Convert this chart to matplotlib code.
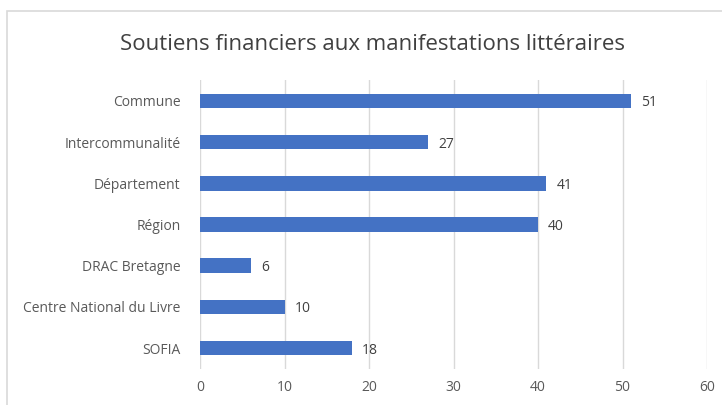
import matplotlib
matplotlib.use("Agg")
import matplotlib.pyplot as plt
from matplotlib.patches import Rectangle

categories = ["Commune", "Intercommunalité", "Département", "Région",
              "DRAC Bretagne", "Centre National du Livre", "SOFIA"]
values = [51, 27, 41, 40, 6, 10, 18]
xticks = [0, 10, 20, 30, 40, 50, 60]

plt.rcParams['font.family'] = ['Open Sans', 'DejaVu Sans']

fig = plt.figure(figsize=(7.22, 4.05), dpi=100)
fig.patches.append(Rectangle((7/722, -0.1), 1.2, 1 - 11/405 + 0.1,
                             transform=fig.transFigure, fill=False,
                             edgecolor='#d9d9d9', linewidth=1.2))
ax = fig.add_axes([200/722, 1 - 368.6/405, 507/722, (368.6 - 80.4)/405])

y = list(range(len(categories)))
ax.barh(y, values, height=0.355, color='#4472C4', zorder=3)
for yi, v in zip(y, values):
    ax.text(v + 1.2, yi, str(v), va='center_baseline', ha='left',
            fontsize=10, color='#404040')

ax.set_yticks(y)
ax.set_yticklabels(categories, fontsize=10, color='#595959')
ax.set_ylim(len(categories) - 0.5, -0.5)
ax.set_xlim(0, 60)
ax.set_xticks(xticks)
ax.set_xticklabels([str(t) for t in xticks], fontsize=10, color='#595959')
ax.grid(axis='x', color='#d9d9d9', linewidth=1, zorder=0)
for s in ax.spines.values():
    s.set_visible(False)
ax.tick_params(axis='both', length=0, pad=8)
ax.tick_params(axis='y', pad=14)

fig.text(372/722, 1 - 45/405, "Soutiens financiers aux manifestations littéraires",
         ha='center', va='center', fontsize=16, color='#404040')

fig.savefig("out.png", dpi=100)
